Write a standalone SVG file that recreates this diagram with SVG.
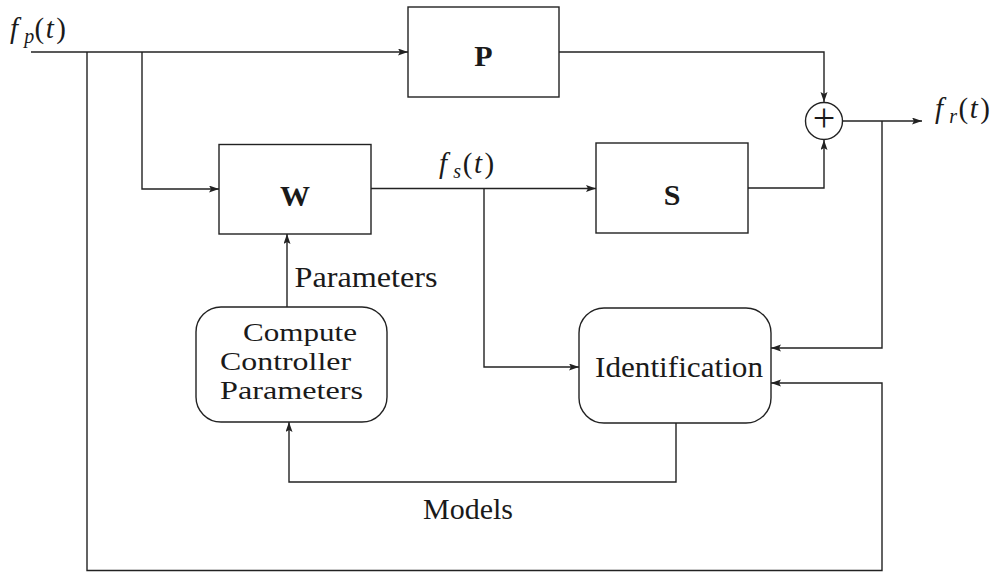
<svg xmlns="http://www.w3.org/2000/svg" width="994" height="572" viewBox="0 0 994 572">
<style>
.ln{fill:none;stroke:#222;stroke-width:1.4}
.box{fill:#fff;stroke:#222;stroke-width:1.4}
.t{font-family:"Liberation Serif","Times New Roman",serif;font-size:29px;fill:#1a1a1a}
.c{font-family:"Liberation Serif","Times New Roman",serif;font-size:26px;fill:#1a1a1a}
.b{font-family:"Liberation Serif","Times New Roman",serif;font-size:30px;font-weight:bold;fill:#1a1a1a;text-anchor:middle}
.i{font-style:italic}
.sub{font-style:italic;font-size:20px}
.plus{font-family:"Liberation Serif","Times New Roman",serif;font-size:40px;fill:#1a1a1a;text-anchor:middle}
</style>
<defs>
<marker id="ar" markerUnits="userSpaceOnUse" markerWidth="11" markerHeight="8" refX="10" refY="3.5" orient="auto">
<path d="M0,0 L10,3.5 L0,7 L2,3.5 z" fill="#222"/>
</marker>
</defs>
<rect width="994" height="572" fill="#fff"/>
<g id="connectors">
<path class="ln" d="M31,52 H408" marker-end="url(#ar)"/>
<path class="ln" d="M87,52 V570.5 H882 V383 H771" marker-end="url(#ar)"/>
<path class="ln" d="M142,52 V189 H219" marker-end="url(#ar)"/>
<path class="ln" d="M371,188.5 H596" marker-end="url(#ar)"/>
<path class="ln" d="M484,188.5 V367 H579" marker-end="url(#ar)"/>
<path class="ln" d="M559,52 H824 V102" marker-end="url(#ar)"/>
<path class="ln" d="M748,188 H824 V140" marker-end="url(#ar)"/>
<path class="ln" d="M843,121 H922" marker-end="url(#ar)"/>
<path class="ln" d="M882,121 V348 H771" marker-end="url(#ar)"/>
<path class="ln" d="M287,307 V234" marker-end="url(#ar)"/>
<path class="ln" d="M676,423 V482 H289 V422" marker-end="url(#ar)"/>
</g>
<g id="label-fp">
<text class="t"><tspan class="i" x="10" y="37.75">f</tspan><tspan class="sub" x="24.2" y="42.75">p</tspan><tspan x="34.4" y="37.75">(</tspan><tspan class="i" x="45.7" y="37.75">t</tspan><tspan x="56.2" y="37.75">)</tspan></text>
</g>
<g id="label-fs">
<text class="t"><tspan class="i" x="439" y="172.75">f</tspan><tspan class="sub" x="453.2" y="177.75">s</tspan><tspan x="462.7" y="172.75">(</tspan><tspan class="i" x="474" y="172.75">t</tspan><tspan x="484.5" y="172.75">)</tspan></text>
</g>
<g id="label-fr">
<text class="t"><tspan class="i" x="935" y="117.75">f</tspan><tspan class="sub" x="949.2" y="122.75">r</tspan><tspan x="958.4" y="117.75">(</tspan><tspan class="i" x="969.7" y="117.75">t</tspan><tspan x="980.2" y="117.75">)</tspan></text>
</g>
<g id="node-P">
<rect class="box" x="408" y="7" width="151" height="90"/>
<text class="b" x="483.5" y="65.5">P</text>
</g>
<g id="node-W">
<rect class="box" x="219" y="144.5" width="152" height="89.5"/>
<text class="b" x="295" y="206">W</text>
</g>
<g id="node-S">
<rect class="box" x="596" y="143" width="152" height="90"/>
<text class="b" x="672" y="205">S</text>
</g>
<g id="node-sum">
<circle class="box" cx="824" cy="121" r="18.5"/>
<text class="plus" x="824" y="131">+</text>
</g>
<g id="label-parameters">
<text class="t" x="294.5" y="287" textLength="143" lengthAdjust="spacingAndGlyphs">Parameters</text>
</g>
<g id="node-compute">
<rect class="box" x="196" y="307" width="191" height="115" rx="25" ry="25"/>
<text class="c" x="243" y="341" textLength="114" lengthAdjust="spacingAndGlyphs">Compute</text>
<text class="c" x="220" y="370" textLength="131" lengthAdjust="spacingAndGlyphs">Controller</text>
<text class="c" x="220" y="399" textLength="143" lengthAdjust="spacingAndGlyphs">Parameters</text>
</g>
<g id="node-identification">
<rect class="box" x="579" y="308" width="192" height="115" rx="25" ry="25"/>
<text class="t" x="595" y="377" textLength="168" lengthAdjust="spacingAndGlyphs">Identification</text>
</g>
<g id="label-models">
<text class="t" x="423" y="519" textLength="90" lengthAdjust="spacingAndGlyphs">Models</text>
</g>
</svg>
